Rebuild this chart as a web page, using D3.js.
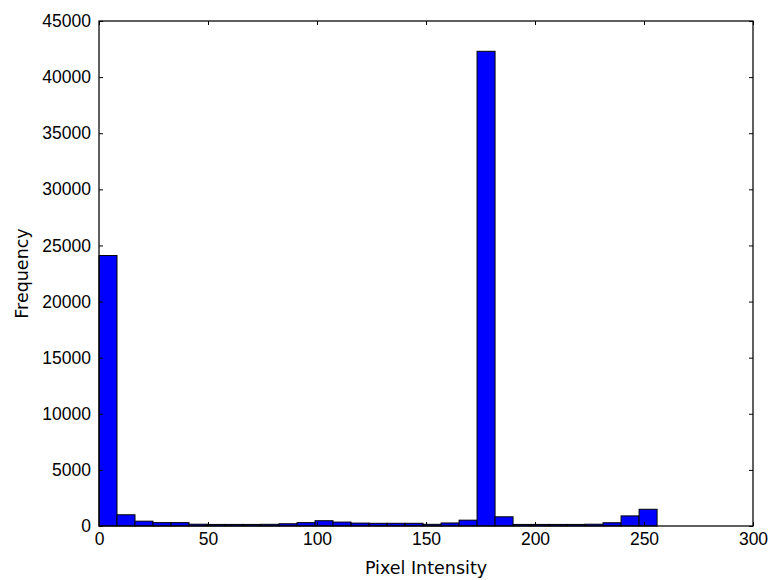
<!DOCTYPE html>
<html>
<head>
<meta charset="utf-8">
<script src="https://cdn.jsdelivr.net/npm/d3@7"></script>
<style>
  body { margin: 0; background: #fff; }
  svg { display: block; }
</style>
</head>
<body>
<script>
// histogram counts, one per bin (31 bins over 0..256)
const binStart = 0, binEnd = 256;
const counts = [24100, 1000, 430, 300, 300, 160, 140, 140, 140, 150, 200,
  300, 470, 350, 260, 240, 240, 240, 150, 270, 520, 42300, 820,
  140, 140, 140, 140, 160, 290, 900, 1490];
const xTicks = [0, 50, 100, 150, 200, 250, 300];
const yTicks = [0, 5000, 10000, 15000, 20000, 25000, 30000, 35000, 40000, 45000];

const width = 771, height = 580;
const margin = { top: 21, right: 18, bottom: 54, left: 99 };
const w = width - margin.left - margin.right,
  h = height - margin.top - margin.bottom;
const fs = 17.5;

const binW = (binEnd - binStart) / counts.length;
const bins = counts.map((c, i) => ({ x0: binStart + i * binW, x1: binStart + (i + 1) * binW, n: c }));

const x = d3.scaleLinear().domain([0, 300]).range([0, w]);
const y = d3.scaleLinear().domain([0, 45000]).range([h, 0]);

const svg = d3.select("body").append("svg")
  .attr("width", width)
  .attr("height", height)
  .attr("font-family", "DejaVu Sans")
  .attr("font-size", fs);

const g = svg.append("g").attr("transform", `translate(${margin.left},${margin.top})`);

// bars
g.selectAll("rect.bar")
  .data(bins)
  .enter().append("rect")
  .attr("class", "bar")
  .attr("x", d => x(d.x0))
  .attr("y", d => y(d.n))
  .attr("width", d => x(d.x1) - x(d.x0))
  .attr("height", d => y(0) - y(d.n))
  .attr("fill", "#0000ff")
  .attr("stroke", "#000")
  .attr("stroke-width", 1);

// axes, ticks pointing inward like matplotlib classic
const tickLen = 4;
const styleAxis = sel => {
  sel.select(".domain").remove();
  sel.selectAll("line").attr("stroke", "#000");
  sel.selectAll("text").attr("fill", "#000").attr("font-size", fs);
};

g.append("g").attr("transform", `translate(0,${h})`)
  .call(d3.axisBottom(x).tickValues(xTicks).tickFormat(d3.format("d")).tickSizeInner(-tickLen).tickSizeOuter(0).tickPadding(7))
  .call(styleAxis)
  .call(a => a.selectAll("text").attr("dy", "0.71em"));

g.append("g")
  .call(d3.axisTop(x).tickValues(xTicks).tickFormat("").tickSizeInner(-tickLen).tickSizeOuter(0))
  .call(styleAxis);

g.append("g")
  .call(d3.axisLeft(y).tickValues(yTicks).tickFormat(d3.format("d")).tickSizeInner(-tickLen).tickSizeOuter(0).tickPadding(8))
  .call(styleAxis);

g.append("g").attr("transform", `translate(${w},0)`)
  .call(d3.axisRight(y).tickValues(yTicks).tickFormat("").tickSizeInner(-tickLen).tickSizeOuter(0))
  .call(styleAxis);

// frame
g.append("rect")
  .attr("x", 0).attr("y", 0)
  .attr("width", w).attr("height", h)
  .attr("fill", "none")
  .attr("stroke", "#000")
  .attr("stroke-width", 1.25);

// labels
svg.append("text")
  .attr("x", margin.left + w / 2)
  .attr("y", 574)
  .attr("text-anchor", "middle")
  .text("Pixel Intensity");

svg.append("text")
  .attr("transform", `translate(28,${margin.top + h / 2}) rotate(-90)`)
  .attr("text-anchor", "middle")
  .text("Frequency");
</script>
</body>
</html>
